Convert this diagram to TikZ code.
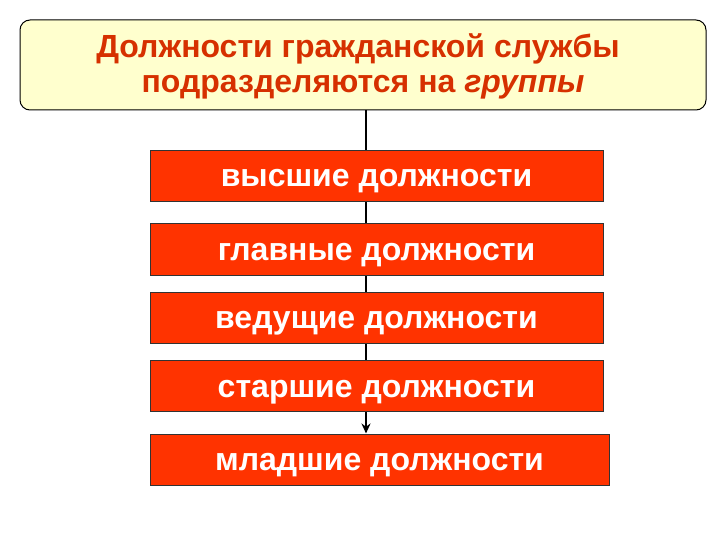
\documentclass[tikz,border=0pt]{standalone}
\usepackage{fontspec}
\setmainfont{Liberation Sans}
\usetikzlibrary{arrows.meta,backgrounds}

\definecolor{boxred}{RGB}{255,51,0}
\definecolor{titlered}{RGB}{214,48,0}
\definecolor{paleyellow}{RGB}{255,255,206}

\tikzset{
    groupbox/.style={draw=black, fill=paleyellow, rounded corners=10pt, line width=1pt,
        minimum width=686pt, minimum height=90pt},
    titletext/.style={text=titlered, anchor=base, font=\fontsize{32}{32}\selectfont\bfseries},
    levelbox/.style={draw=black!80, fill=boxred, text=white, line width=1pt,
        minimum height=51pt, inner sep=0pt, text height=22pt, text depth=0pt,
        font=\fontsize{32}{32}\selectfont\bfseries}
}

\begin{document}
\begin{tikzpicture}[x=1pt,y=-1pt]
            \useasboundingbox (0,0) rectangle (720,540);

            \node[groupbox] (groups) at (363,65) {};
            \node[titletext] (line1) at (358,58) {Должности гражданской службы};
            \node[titletext] (line2) at (363,93) {подразделяются на \textit{группы}};

            \foreach \name/\x/\y/\w/\txt in {top/376.5/176/453/высшие, main/376.5/249.5/453/главные, lead/376.5/317.5/453/ведущие,
                                             senior/376.5/386/453/старшие, junior/379.5/459.5/459/младшие} {
                \node[levelbox, minimum width=\w pt] (\name) at (\x,\y) {\txt\ должности};
            }

            \begin{scope}[on background layer]
                \draw[line width=2.5pt, -{Stealth[length=10pt,width=9pt]}] (groups.south -| 366,0) -- (junior.north -| 366,0);
            \end{scope}
        \end{tikzpicture}
\end{document}
